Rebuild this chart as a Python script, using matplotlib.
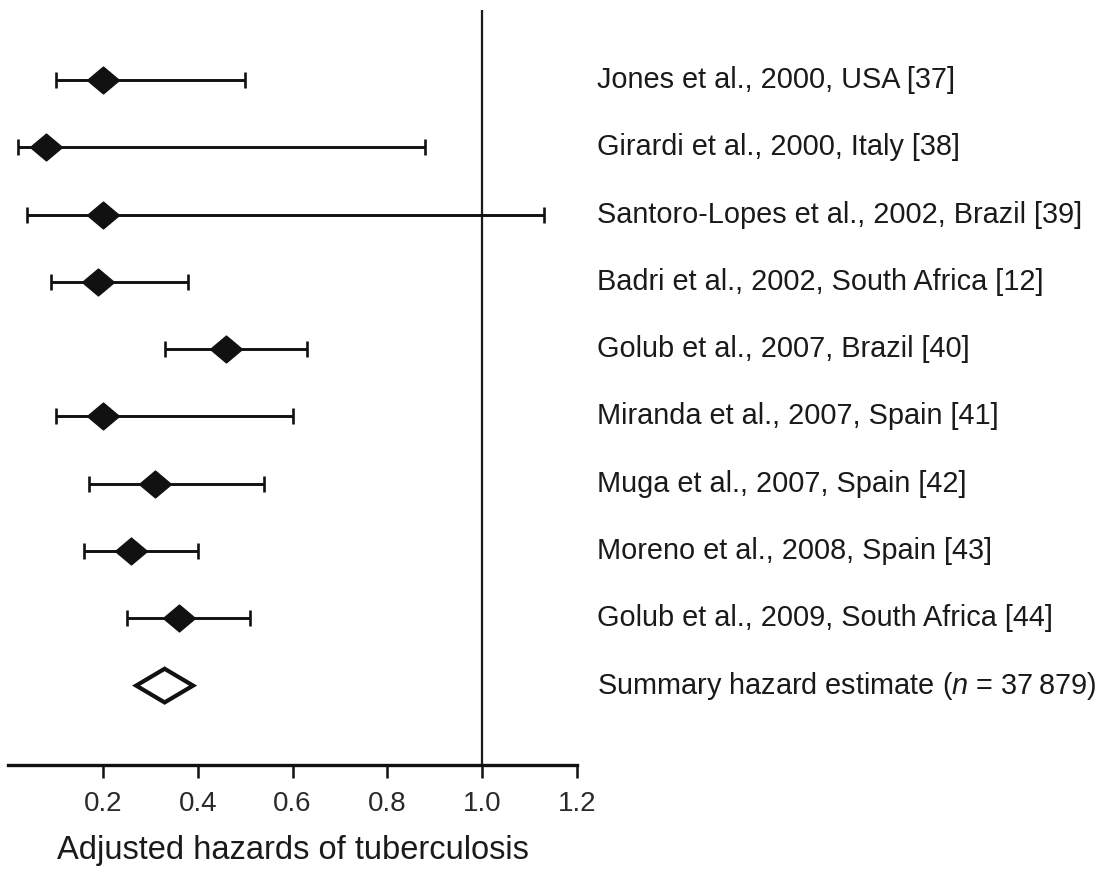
"""Forest plot of adjusted hazards of tuberculosis."""

import matplotlib
matplotlib.use('Agg')
import matplotlib.pyplot as plt
from matplotlib.path import Path
from matplotlib.transforms import blended_transform_factory


STUDIES = [
    'Jones et al., 2000, USA [37]',
    'Girardi et al., 2000, Italy [38]',
    'Santoro-Lopes et al., 2002, Brazil [39]',
    'Badri et al., 2002, South Africa [12]',
    'Golub et al., 2007, Brazil [40]',
    'Miranda et al., 2007, Spain [41]',
    'Muga et al., 2007, Spain [42]',
    'Moreno et al., 2008, Spain [43]',
    'Golub et al., 2009, South Africa [44]',
]
HAZARD = [0.20, 0.08, 0.20, 0.19, 0.46, 0.20, 0.31, 0.26, 0.36]
CI_LOW = [0.10, 0.02, 0.04, 0.09, 0.33, 0.10, 0.17, 0.16, 0.25]
CI_HIGH = [0.50, 0.88, 1.13, 0.38, 0.63, 0.60, 0.54, 0.40, 0.51]

SUMMARY_LABEL = 'Summary hazard estimate ($n$ = 37\u2009879)'
SUMMARY_HAZARD = 0.33
SUMMARY_LOW = 0.27
SUMMARY_HIGH = 0.39

X_TICKS = [0.2, 0.4, 0.6, 0.8, 1.0, 1.2]
X_TICK_LABELS = ['0.2', '0.4', '0.6', '0.8', '1.0', '1.2']
X_LABEL = 'Adjusted hazards of tuberculosis'

TEXT_COLOR = '#1a1a1a'
FIG_W, FIG_H = 1109, 873

plt.rcParams['font.family'] = ['Liberation Sans', 'DejaVu Sans']
plt.rcParams['mathtext.fontset'] = 'custom'
plt.rcParams['mathtext.it'] = 'Liberation Sans:italic'

# slightly wide diamond used for study estimates
DIAMOND = Path([(-1.0, 0.0), (0.0, 0.84), (1.0, 0.0), (0.0, -0.84),
                (-1.0, 0.0)],
               [Path.MOVETO, Path.LINETO, Path.LINETO, Path.LINETO,
                Path.CLOSEPOLY])

fig = plt.figure(figsize=(FIG_W / 100, FIG_H / 100), dpi=100)
left_px, right_px = 8.2, 577.0
top_px, bottom_px = 10.0, 765.0
ax = fig.add_axes([
    left_px / FIG_W,
    1 - bottom_px / FIG_H,
    (right_px - left_px) / FIG_W,
    (bottom_px - top_px) / FIG_H,
])

rows = list(range(len(STUDIES)))
summary_row = len(STUDIES)

for row, est, low, high in zip(rows, HAZARD, CI_LOW, CI_HIGH):
    ax.errorbar(
        [est], [row],
        xerr=[[est - low], [high - est]],
        fmt='none',
        ecolor='#111111',
        elinewidth=2.1,
        capsize=6,
        capthick=1.9)
    ax.plot([est], [row], marker=DIAMOND, markersize=23,
            color='#111111', linestyle='none', zorder=3)

half_height = 0.25
ax.fill(
    [SUMMARY_LOW, SUMMARY_HAZARD, SUMMARY_HIGH, SUMMARY_HAZARD],
    [summary_row, summary_row - half_height, summary_row,
     summary_row + half_height],
    facecolor='white', edgecolor='#111111', linewidth=3.0,
    joinstyle='miter', zorder=3)

ax.axvline(1.0, color='#1a1a1a', linewidth=1.6, zorder=1)

ax.set_xlim(0.0, 1.2)
ax.set_ylim(10.18, -1.04)

for side in ('top', 'right', 'left'):
    ax.spines[side].set_visible(False)
ax.spines['bottom'].set_linewidth(2.4)
ax.spines['bottom'].set_color('#111111')

ax.set_yticks([])
ax.set_xticks(X_TICKS)
ax.set_xticklabels(X_TICK_LABELS)
ax.tick_params(axis='x', direction='out', length=9, width=1.8,
               color='#111111', labelsize=20, labelcolor='#2a2a2a',
               pad=10)
ax.set_xlabel(X_LABEL, fontsize=23.5, color=TEXT_COLOR, labelpad=13)

label_transform = blended_transform_factory(fig.transFigure, ax.transData)
text_x = 597 / FIG_W
for row, name in zip(rows, STUDIES):
    ax.text(text_x, row, name, transform=label_transform, fontsize=20.8,
            color=TEXT_COLOR, va='center', ha='left', clip_on=False)
ax.text(text_x, summary_row, SUMMARY_LABEL, transform=label_transform,
        fontsize=20.8, color=TEXT_COLOR, va='center', ha='left',
        clip_on=False)

fig.savefig('out.png', dpi=100)
